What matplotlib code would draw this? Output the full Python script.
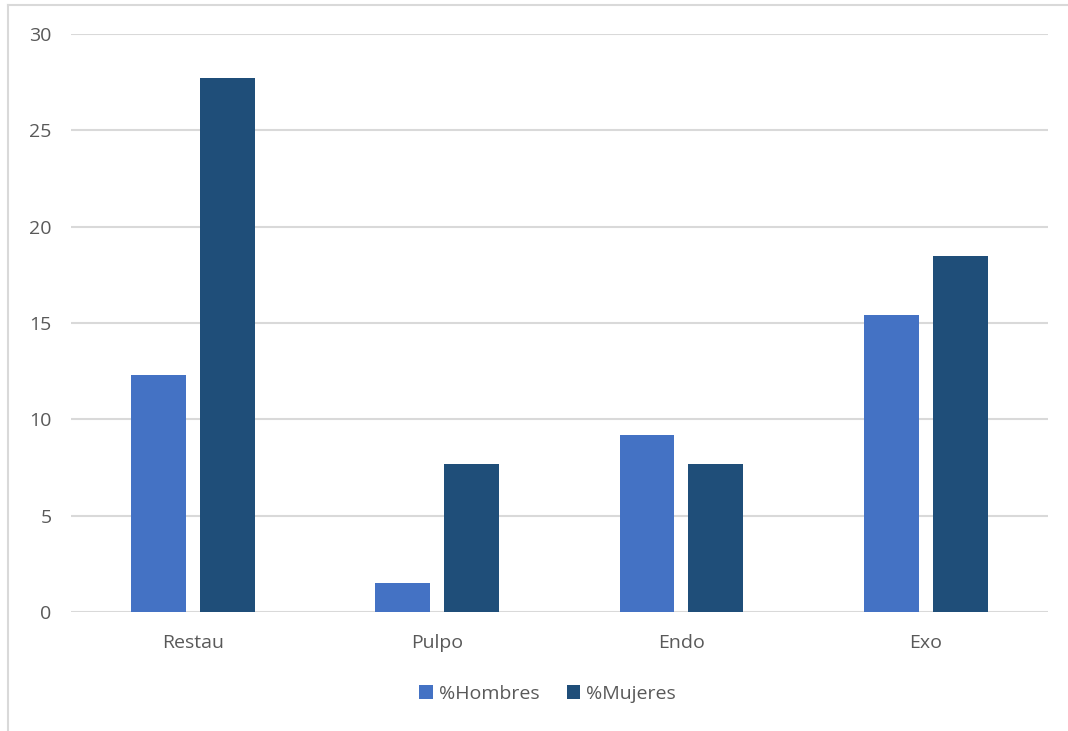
import numpy as np
import matplotlib.pyplot as plt
from matplotlib.lines import Line2D

# Datos
categorias = ["Restau", "Pulpo", "Endo", "Exo"]
hombres = [12.3, 1.5, 9.2, 15.4]
mujeres = [27.7, 7.7, 7.7, 18.5]

color_h = "#4472C4"
color_m = "#1F4E79"
gris = "#595959"

plt.rcParams['font.family'] = ['Open Sans', 'DejaVu Sans']

fig = plt.figure(figsize=(10.68, 7.31), dpi=100)
ax = fig.add_axes([0.0665, 0.1628, 0.9145, 0.7907])

x = np.arange(len(categorias))
ancho = 0.225
ax.bar(x - 0.141, hombres, ancho, color=color_h, label="%Hombres", zorder=3)
ax.bar(x + 0.141, mujeres, ancho, color=color_m, label="%Mujeres", zorder=3)

ax.set_xlim(-0.5, 3.5)
ax.set_ylim(0, 30)
ax.set_yticks(range(0, 31, 5))
ax.set_xticks(x)
ax.set_xticklabels(categorias)
ax.grid(axis='y', color="#D9D9D9", linewidth=1.5, zorder=0)
for s in ax.spines.values():
    s.set_visible(False)
ax.tick_params(axis='both', length=0, colors=gris, labelsize=14)
ax.tick_params(axis='x', pad=16)
ax.tick_params(axis='y', pad=14)

ax.legend(loc='center', bbox_to_anchor=(0.488, -0.142), ncol=2, frameon=False,
          handlelength=0.7, handleheight=0.7, handletextpad=0.3, columnspacing=1.4,
          fontsize=14, labelcolor=gris)

# marco del gráfico
fig.add_artist(Line2D([8 / 1068, 1], [1 - 5 / 731, 1 - 5 / 731], color="#D9D9D9", linewidth=1.5))
fig.add_artist(Line2D([8 / 1068, 8 / 1068], [0, 1 - 5 / 731], color="#D9D9D9", linewidth=1.5))

fig.savefig("out.png", dpi=100)
